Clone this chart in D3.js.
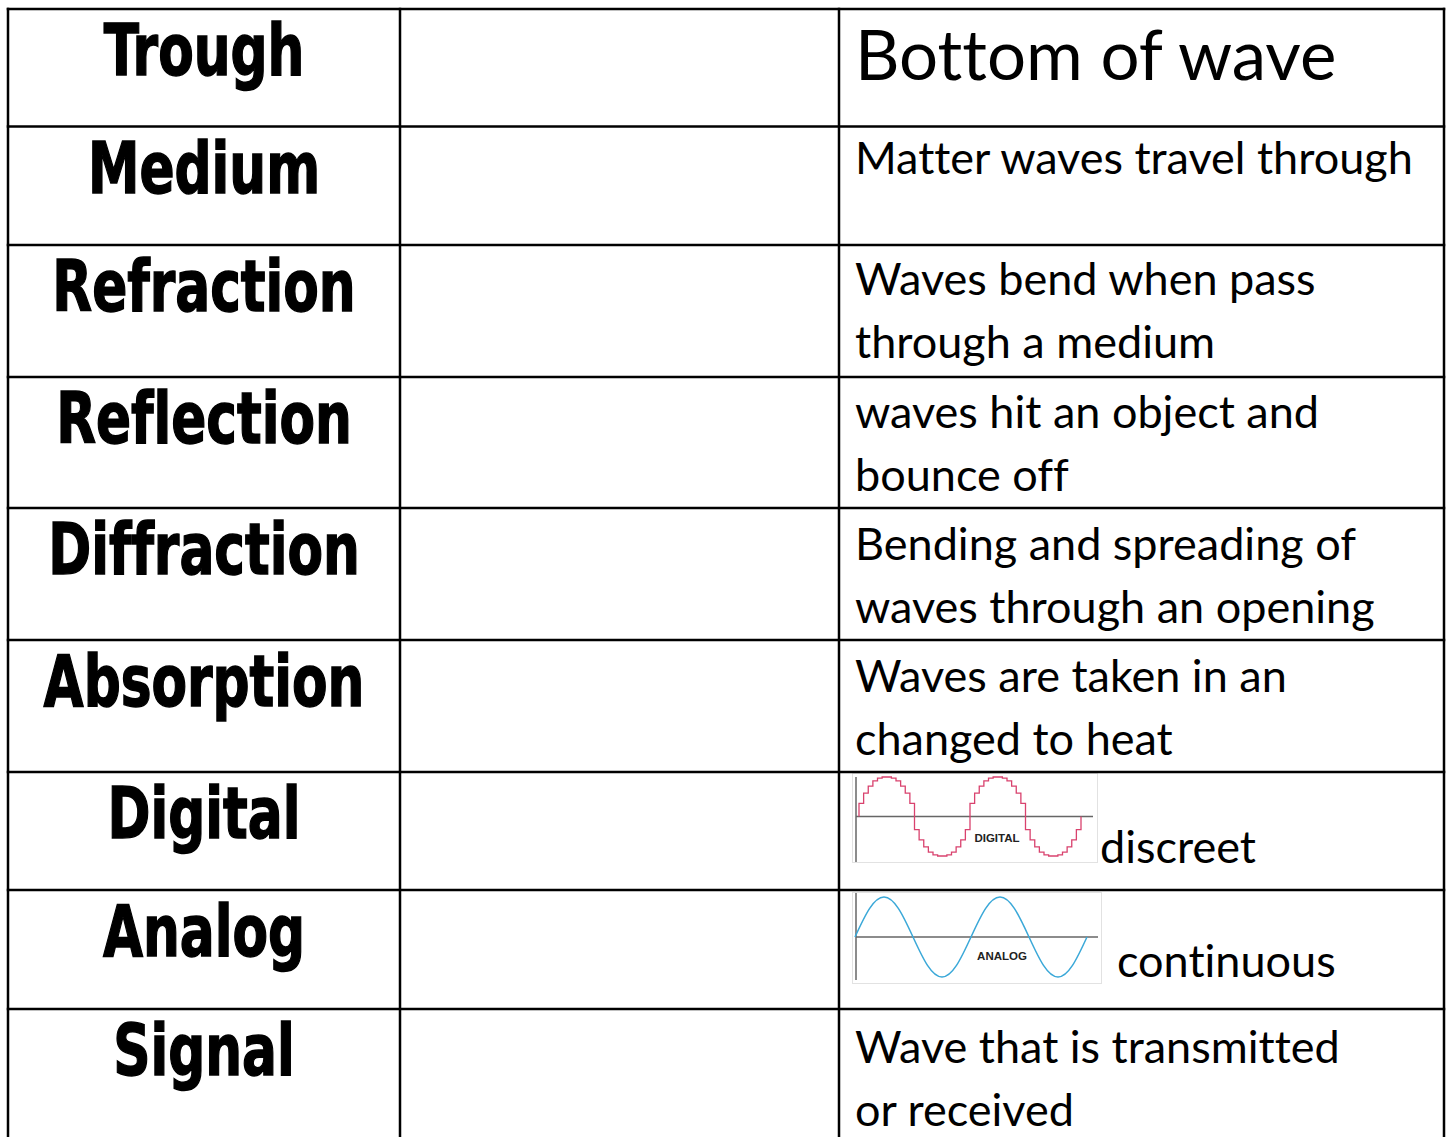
<!DOCTYPE html>
<html><head><meta charset="utf-8">
<script src="https://cdn.jsdelivr.net/npm/d3@7"></script>
<style>html,body{margin:0;padding:0;background:#fff;overflow:hidden} svg{display:block} text{font-variant-ligatures:none;font-feature-settings:"liga" 0}</style>
</head><body>
<script>
// ---------- DATA ----------
const terms = ["Trough","Medium","Refraction","Reflection","Diffraction","Absorption","Digital","Analog","Signal"];
const definitions = [
  ["Bottom of wave"],
  ["Matter waves travel through"],
  ["Waves bend when pass","through a medium"],
  ["waves hit an object and","bounce off"],
  ["Bending and spreading of","waves through an opening"],
  ["Waves are taken in an","changed to heat"],
  ["discreet"],
  ["continuous"],
  ["Wave that is transmitted","or received"]
];
const imageLabels = ["DIGITAL","ANALOG"];
// analog wave: values at eighth-period positions
const analogValues = [0,0.71,1,0.71,0,-0.71,-1,-0.71,0,0.71,1,0.71,0,-0.71,-1,-0.71,0];
// digital wave: quantised step levels
const digitalLevels = [
  0.33,0.59,0.77,0.90,0.97,1.00,1.00,0.97,0.90,0.77,0.59,0.33,
  -0.33,-0.59,-0.77,-0.90,-0.97,-1.00,-1.00,-0.97,-0.90,-0.77,-0.59,-0.33,
  0.33,0.59,0.77,0.90,0.97,1.00,1.00,0.97,0.90,0.77,0.59,0.33,
  -0.33,-0.59,-0.77,-0.90,-0.97,-1.00,-1.00,-0.97,-0.90,-0.77,-0.59,-0.33
];

// ---------- LAYOUT ----------
const W = 1449, H = 1137;
const colEdges = [8, 400, 839, 1444];
const rowEdges = [9, 126.5, 245, 377, 508, 640, 772, 890, 1009, 1160];
const defFirstBaseline = [80, 173.5, 295, 428, 560, 692, 863, 977, 1063];
const defX = [855,855,855,855,855,855,1100,1117,855];
const lineGap = 63;

const svg = d3.select("body").append("svg").attr("width", W).attr("height", H);
svg.append("rect").attr("width", W).attr("height", H).attr("fill", "#fff");

// terms (condensed heavy face)
svg.append("g").selectAll("text").data(terms).join("text")
  .attr("transform", (d, i) => `translate(${(colEdges[0] + colEdges[1]) / 2},${rowEdges[i] + 66}) scale(0.81,1)`)
  .attr("text-anchor", "middle")
  .attr("font-family", "'Liberation Sans Narrow','DejaVu Sans Condensed','DejaVu Sans',sans-serif")
  .attr("font-weight", "bold")
  .attr("font-size", 71)
  .attr("fill", "#000").attr("stroke", "#000").attr("stroke-width", 1.4)
  .text(d => d);

// definitions
const defG = svg.append("g");
definitions.forEach((lines, i) => {
  const t = defG.append("text")
    .attr("font-family", "Lato, 'Open Sans', sans-serif")
    .attr("font-size", i === 0 ? 69 : 45)
    .attr("fill", "#000");
  lines.forEach((ln, j) => {
    t.append("tspan").attr("x", defX[i]).attr("y", defFirstBaseline[i] + j * lineGap).text(ln);
  });
});

// ---------- wave pictures ----------
function drawFrame(x0, y0, x1, y1) {
  svg.append("rect").attr("x", x0).attr("y", y0).attr("width", x1 - x0).attr("height", y1 - y0)
    .attr("fill", "#fff").attr("stroke", "#e2e2e2").attr("stroke-width", 1);
}
// digital
drawFrame(852.5, 773.5, 1097.5, 862.5);
const xDig = d3.scaleLinear().domain([0, digitalLevels.length]).range([859, 1081]);
const yDig = d3.scaleLinear().domain([-1, 1]).range([856, 777]);
svg.append("line").attr("x1", 856).attr("x2", 856).attr("y1", 777).attr("y2", 862).attr("stroke", "#666").attr("stroke-width", 1.5);
svg.append("line").attr("x1", 856).attr("x2", 1093).attr("y1", yDig(0)).attr("y2", yDig(0)).attr("stroke", "#666").attr("stroke-width", 1.5);
const digPts = [[0, 0]].concat(digitalLevels.map((v, i) => [i, v])).concat([[digitalLevels.length, 0]]);
svg.append("path").datum(digPts)
  .attr("d", d3.line().x(d => xDig(d[0])).y(d => yDig(d[1])).curve(d3.curveStepAfter))
  .attr("fill", "none").attr("stroke", "#d9426e").attr("stroke-width", 1.3);
svg.append("text").attr("x", 997).attr("y", 842).attr("text-anchor", "middle")
  .attr("font-family", "'Liberation Sans', Arial, sans-serif").attr("font-weight", "bold")
  .attr("font-size", 11.5).attr("fill", "#222").text(imageLabels[0]);

// analog
drawFrame(852.5, 892.5, 1101.5, 983.5);
const xAn = d3.scaleLinear().domain([0, analogValues.length - 1]).range([855, 1087]);
const yAn = d3.scaleLinear().domain([-1, 1]).range([977, 897]);
svg.append("line").attr("x1", 856).attr("x2", 856).attr("y1", 893).attr("y2", 980).attr("stroke", "#666").attr("stroke-width", 1.5);
svg.append("line").attr("x1", 856).attr("x2", 1098).attr("y1", yAn(0)).attr("y2", yAn(0)).attr("stroke", "#666").attr("stroke-width", 1.5);
svg.append("path").datum(analogValues)
  .attr("d", d3.line().x((d, i) => xAn(i)).y(d => yAn(d)).curve(d3.curveNatural))
  .attr("fill", "none").attr("stroke", "#3aa8d8").attr("stroke-width", 1.5);
svg.append("text").attr("x", 1002).attr("y", 960).attr("text-anchor", "middle")
  .attr("font-family", "'Liberation Sans', Arial, sans-serif").attr("font-weight", "bold")
  .attr("font-size", 11.5).attr("fill", "#222").text(imageLabels[1]);

// ---------- grid lines ----------
const grid = svg.append("g").attr("stroke", "#000").attr("stroke-width", 2.5);
grid.selectAll("line.v").data(colEdges).join("line").attr("class", "v")
  .attr("x1", d => d).attr("x2", d => d).attr("y1", rowEdges[0] - 1.25).attr("y2", H);
grid.selectAll("line.h").data(rowEdges.slice(0, -1)).join("line").attr("class", "h")
  .attr("x1", colEdges[0] - 1.25).attr("x2", colEdges[3] + 1.25).attr("y1", d => d).attr("y2", d => d);
</script>
</body></html>
